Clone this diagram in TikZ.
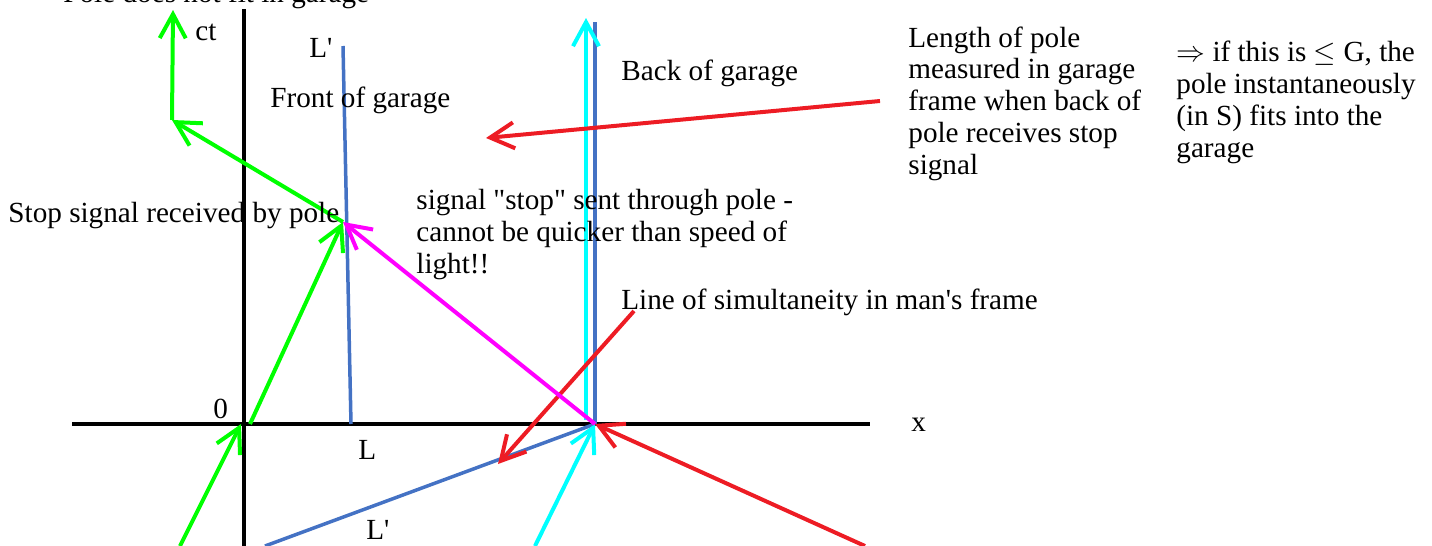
\documentclass[tikz,border=0pt]{standalone}
\usepackage{fontspec}
\setmainfont{Liberation Serif}[Ligatures=TeXOff]
\usetikzlibrary{arrows.meta}
\definecolor{pole}{HTML}{4472C4}
\definecolor{lime}{HTML}{00FF00}
\definecolor{aqua}{HTML}{00FFFF}
\definecolor{pink}{HTML}{FF00FF}
\definecolor{alarm}{HTML}{ED1C24}
\tikzset{
  axis/.style={line width=2pt,draw=black},
  poleline/.style={line width=1.75pt,draw=pole},
  ray/.style={-{Straight Barb[length=12pt,width=13pt]},line width=2pt},
  lbl/.style={font=\fontsize{14.6}{15.85}\selectfont,inner sep=0pt,anchor=base west,align=left,text=black}
}
\begin{document}
\begin{tikzpicture}[x=0.5pt,y=-0.5pt]
  \useasboundingbox (0,0) rectangle (1432,546);
  % events
  \coordinate (o) at (244,424);
  \coordinate (xl) at (72,424);   \coordinate (xr) at (870,424);
  \coordinate (tb) at (244,546);  \coordinate (tt) at (244,9);
  \coordinate (f0) at (351,424);  \coordinate (f1) at (343,46);
  \coordinate (b0) at (595,424);  \coordinate (b1) at (595,22);
  \coordinate (c0) at (586,420);  \coordinate (c1) at (586,18);
  \coordinate (cl) at (535,546);
  \coordinate (pl) at (265,546);
  \coordinate (rl) at (865,546);
  \coordinate (s1) at (634,311);  \coordinate (s2) at (498,464);
  \coordinate (m1) at (880,101);  \coordinate (m2) at (486,138);
  \coordinate (e) at (343,222);
  \coordinate (g0) at (180,546);  \coordinate (g1) at (241,424);
  \coordinate (g2) at (250,424);
  \coordinate (k) at (172,120);   \coordinate (kt) at (173,10);
  % axes and garage
  \draw[axis] (xl) -- (xr);
  \draw[axis] (tb) -- (tt);
  \draw[poleline] (f0) -- (f1);
  \draw[poleline] (b0) -- (b1);
  \draw[poleline] (pl) -- (b0);
  \draw[ray,aqua] (c0) -- (c1);
  \draw[ray,aqua] (cl) -- (b0);
  \draw[ray,alarm] (rl) -- (b0);
  \draw[ray,alarm] (s1) -- (s2);
  \draw[ray,alarm] (m1) -- (m2);
  \draw[ray,pink] (b0) -- (e);
  \draw[ray,lime] (g0) -- (g1);
  \draw[ray,lime] (g2) -- (e);
  \draw[ray,lime] (e) -- (k);
  \draw[ray,lime] (k) -- (kt);
  % labels (multi-line ones sit on their last baseline)
  \node[lbl] (nofit) at (63,3) {Pole does not fit in garage};
  \node[lbl] (ct) at (195,40) {ct};
  \node[lbl] (lp) at (309,57) {L'};
  \node[lbl] (front) at (270,107) {Front of garage};
  \node[lbl] (back) at (621,80) {Back of garage};
  \node[lbl] (meas) at (908,174) {Length of pole\\measured in garage\\frame when back of\\pole receives stop\\signal};
  \node[lbl] (fits) at (1176,157) {$\Rightarrow$ if this is $\leq$ G, the\\pole instantaneously\\(in S) fits into the\\garage};
  \node[lbl] (recv) at (8,222) {Stop signal received by pole};
  \node[lbl] (sig) at (416,273) {signal "stop" sent through pole -\\cannot be quicker than speed of\\light!!};
  \node[lbl] (simul) at (621,309) {Line of simultaneity in man's frame};
  \node[lbl] (xlab) at (911,431) {x};
  \node[lbl] (zero) at (213,418) {0};
  \node[lbl] (lx) at (358,459) {L};
  \node[lbl] (lq) at (366,539) {L'};
\end{tikzpicture}
\end{document}
